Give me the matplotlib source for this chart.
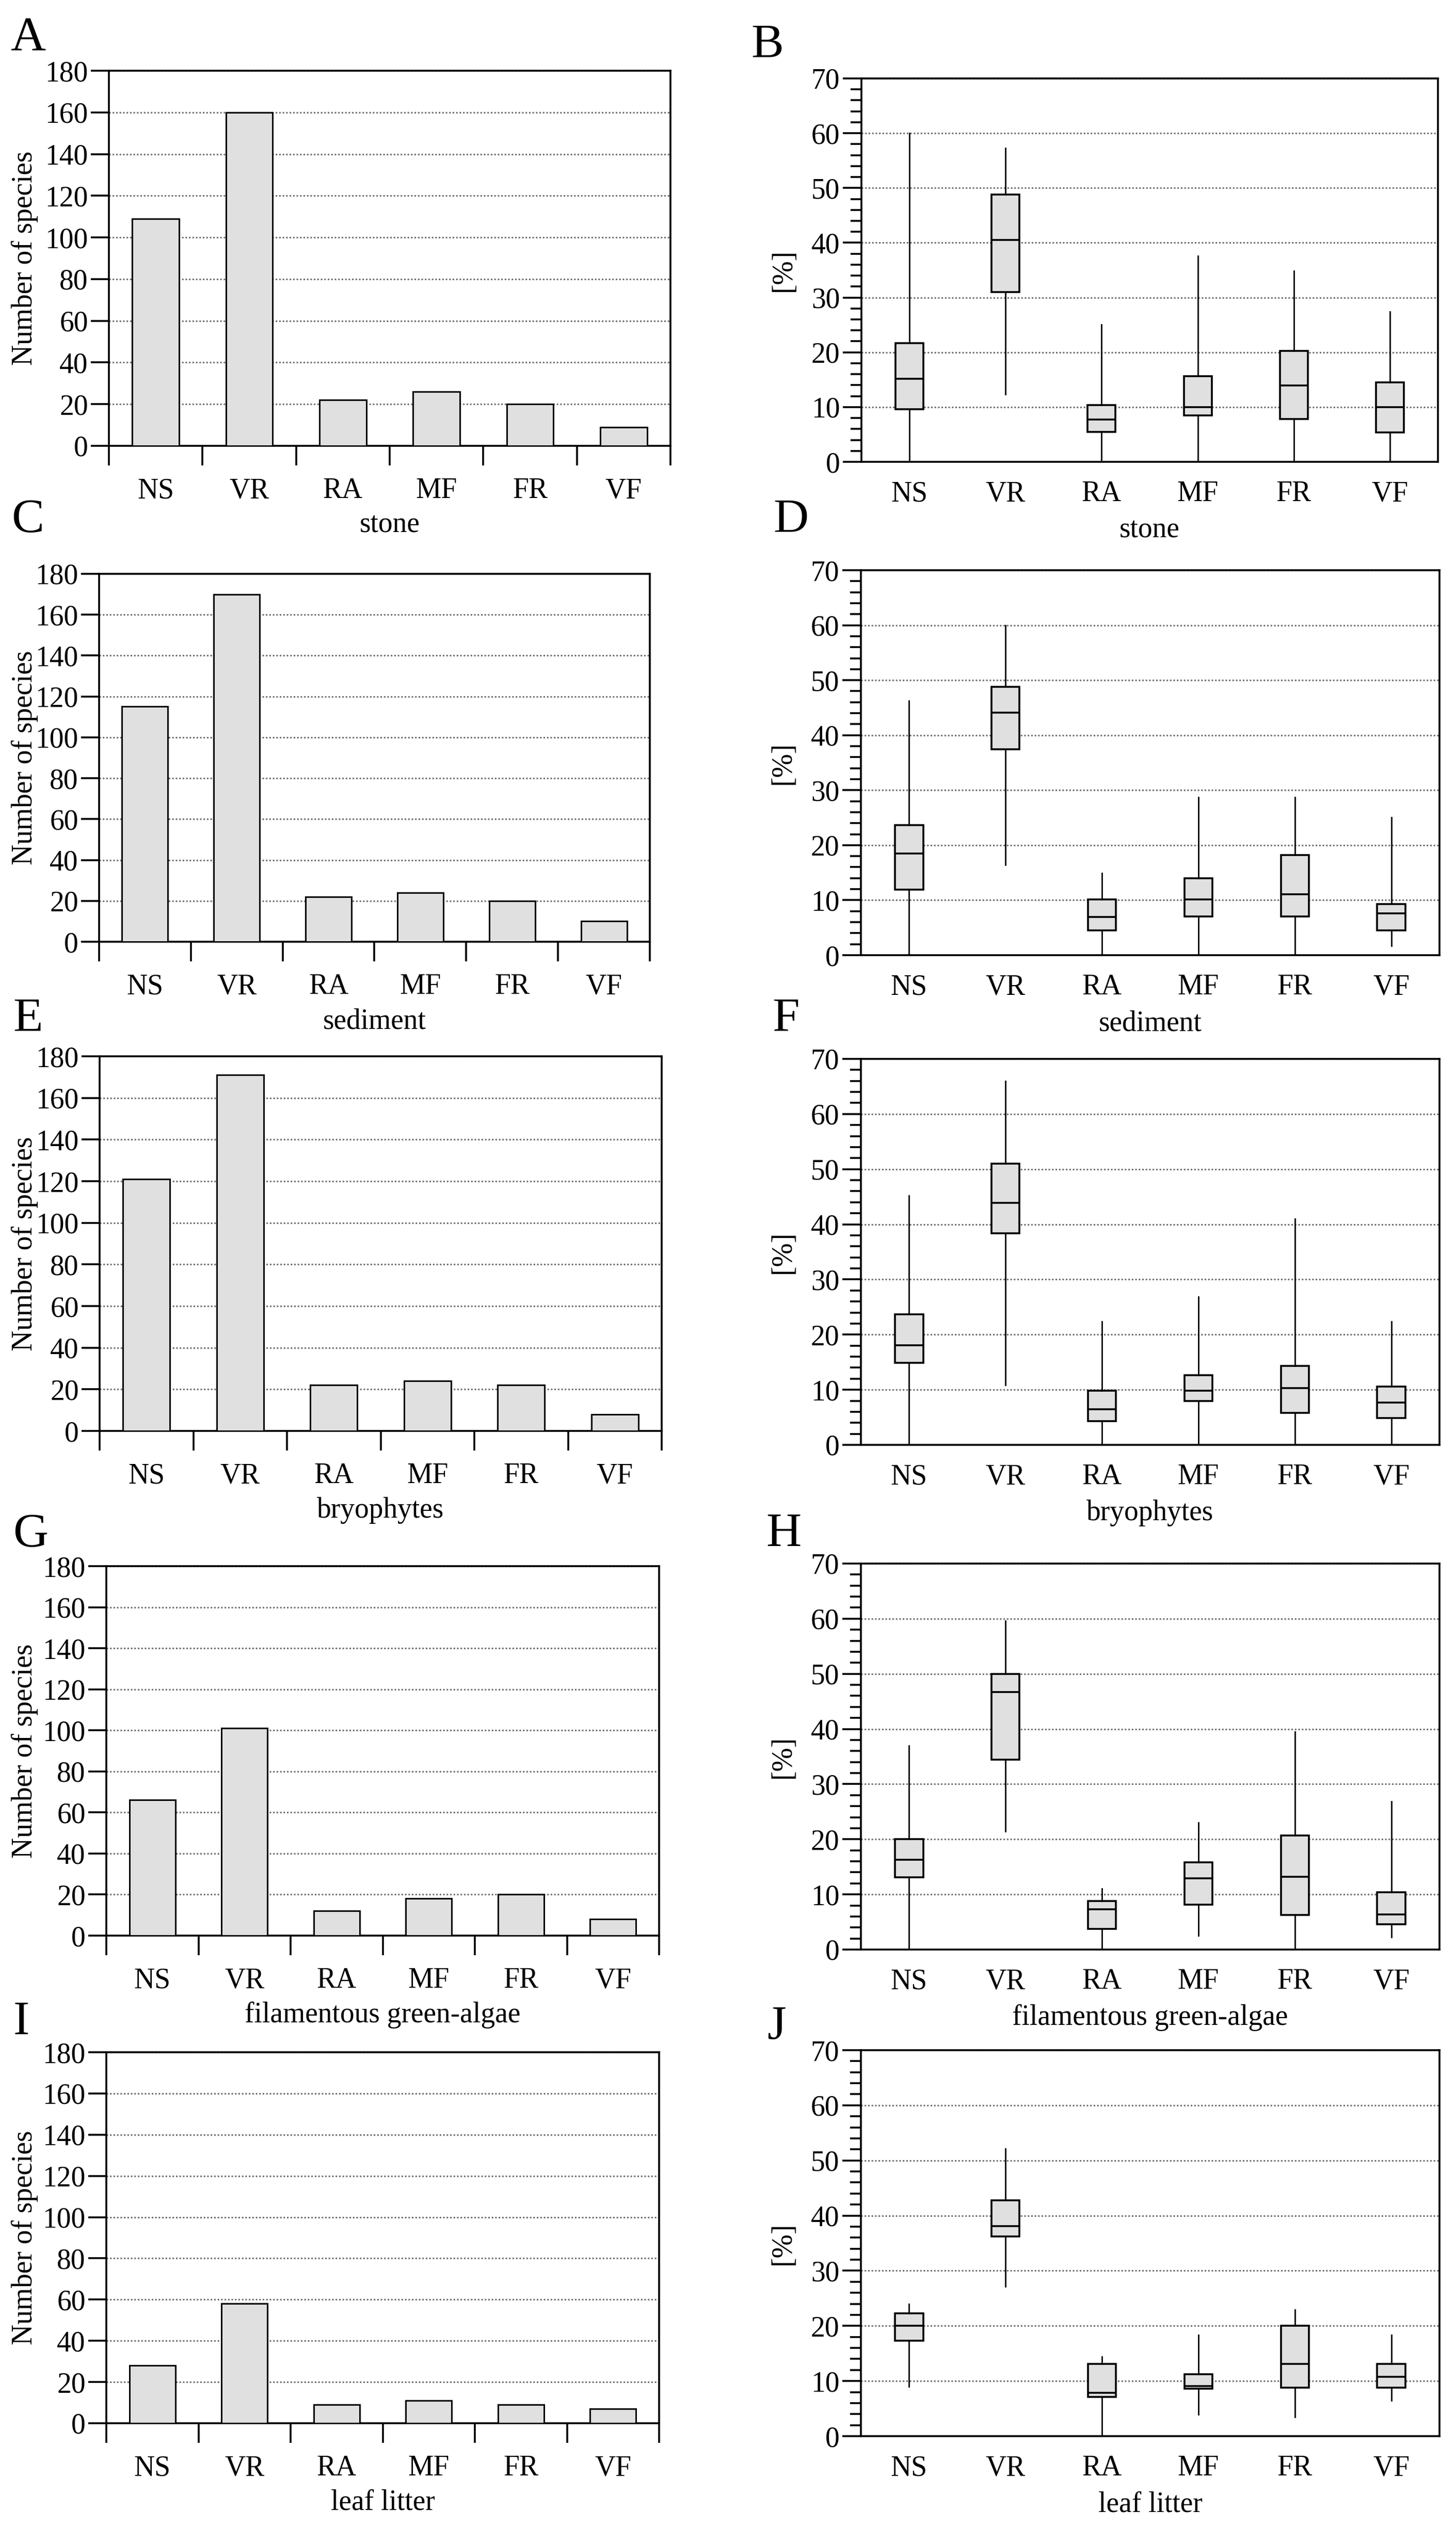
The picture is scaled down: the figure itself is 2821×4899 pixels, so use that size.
import matplotlib
matplotlib.use("Agg")
import matplotlib.pyplot as plt
from matplotlib.ticker import MultipleLocator, FixedLocator, NullFormatter

plt.rcParams['font.family'] = ['Liberation Serif', 'DejaVu Serif']

# ---- data -------------------------------------------------------------
categories = ['NS', 'VR', 'RA', 'MF', 'FR', 'VF']
habitats = ['stone', 'sediment', 'bryophytes', 'filamentous green-algae', 'leaf litter']

# number of species per group (left column)
species_stone = [109, 160, 22, 26, 20, 9]
species_sediment = [115, 170, 22, 24, 20, 10]
species_bryophytes = [121, 171, 22, 24, 22, 8]
species_algae = [66, 101, 12, 18, 20, 8]
species_litter = [28, 58, 9, 11, 9, 7]

# relative share [%] per group (right column): min, q1, median, q3, max
pct_stone = [[0, 9.6, 15.2, 21.7, 60.0], [12.3, 31.0, 40.5, 48.8, 57.3],
             [0, 5.5, 7.7, 10.4, 25.1], [0, 8.5, 10.0, 15.6, 37.6],
             [0, 7.8, 13.9, 20.3, 34.9], [0, 5.4, 10.0, 14.5, 27.4]]
pct_sediment = [[0, 11.9, 18.5, 23.6, 46.3], [16.4, 37.4, 44.1, 48.8, 60.0],
                [0, 4.5, 6.9, 10.1, 14.9], [0, 7.0, 10.1, 14.0, 28.7],
                [0, 7.0, 11.1, 18.2, 28.7], [1.7, 4.5, 7.6, 9.3, 25.1]]
pct_bryophytes = [[0, 14.9, 18.1, 23.7, 45.2], [10.9, 38.4, 43.9, 51.0, 66.0],
                  [0, 4.3, 6.5, 9.8, 22.4], [0, 8.0, 9.8, 12.6, 26.9],
                  [0, 5.8, 10.3, 14.3, 41.0], [0, 4.9, 7.7, 10.6, 22.4]]
pct_algae = [[0, 13.1, 16.3, 20.0, 37.0], [21.4, 34.4, 46.7, 50.0, 59.6],
             [0, 3.7, 7.3, 8.8, 11.0], [2.5, 8.1, 12.9, 15.8, 23.0],
             [0, 6.3, 13.2, 20.7, 39.5], [2.2, 4.6, 6.4, 10.4, 26.9]]
pct_litter = [[9.0, 17.3, 20.0, 22.3, 24.0], [27.1, 36.2, 38.1, 42.8, 52.1],
              [0, 7.1, 7.9, 13.1, 14.4], [3.9, 8.6, 9.1, 11.2, 18.3],
              [3.5, 8.8, 13.1, 20.0, 22.9], [6.5, 8.8, 10.8, 13.1, 18.3]]

species_all = [species_stone, species_sediment, species_bryophytes, species_algae, species_litter]
pct_all = [pct_stone, pct_sediment, pct_bryophytes, pct_algae, pct_litter]

# ---- layout (pixels of the 2821 x 4899 canvas) -------------------------
W, H = 2821, 4899
left_boxes = [(211, 137, 1299, 864), (192, 1112, 1259, 1825), (193, 2047, 1282, 2773),
              (206, 3035, 1277, 3751), (206, 3977, 1277, 4696)]
right_boxes = [(1669, 152, 2786, 895), (1668, 1105, 2789, 1851), (1668, 2052, 2789, 2800),
               (1668, 3030, 2789, 3778), (1668, 3973, 2789, 4721)]
left_letters = [('A', 54, 75), ('C', 54, 1008), ('E', 54, 1975), ('G', 59, 2974), ('I', 41, 3919)]
right_letters = [('B', 1487, 88), ('D', 1532, 1008), ('F', 1523, 1975), ('H', 1518, 2974), ('J', 1505, 3929)]

FS = 40
LW = 2.6
FILL = '#e0e0e0'
GRID = dict(color='#707070', linestyle=(0, (1, 1.2)), linewidth=2.2)

fig = plt.figure(figsize=(W / 100, H / 100), dpi=100)


def add_axes(box):
    x0, y0, x1, y1 = box
    return fig.add_axes([x0 / W, 1 - y1 / H, (x1 - x0) / W, (y1 - y0) / H])


def style_frame(ax):
    for s in ax.spines.values():
        s.set_linewidth(LW)
    ax.set_axisbelow(True)
    ax.yaxis.grid(True, **GRID)


for i in range(5):
    # bar chart: number of species
    ax = add_axes(left_boxes[i])
    style_frame(ax)
    ax.bar(range(6), species_all[i], width=0.5, color=FILL, edgecolor='black',
           linewidth=2.2, zorder=3)
    ax.set_xlim(-0.5, 5.5)
    ax.set_ylim(0, 180)
    ax.yaxis.set_major_locator(MultipleLocator(20))
    ax.set_xticks(range(6))
    ax.set_xticklabels(categories)
    ax.xaxis.set_minor_locator(FixedLocator([k - 0.5 for k in range(7)]))
    ax.xaxis.set_minor_formatter(NullFormatter())
    ax.tick_params(axis='x', which='major', length=0, pad=44, labelsize=FS)
    ax.tick_params(axis='x', which='minor', length=27, width=LW, direction='out')
    ax.tick_params(axis='y', which='major', length=25, width=LW, direction='out',
                   pad=4, labelsize=FS)
    ax.set_ylabel('Number of species', fontsize=FS, va='center')
    hpx = left_boxes[i][3] - left_boxes[i][1]
    wpx = left_boxes[i][2] - left_boxes[i][0]
    ax.yaxis.set_label_coords(-(left_boxes[i][0] - 48) / wpx, 0.5)
    ax.set_xlabel(habitats[i], fontsize=FS, va='center')
    ax.xaxis.set_label_coords(0.5, -154 / hpx)
    lt, lx, ly = left_letters[i]
    fig.text(lx / W, 1 - ly / H, lt, fontsize=68, ha='center', va='center')

    # box plot: share in percent
    ax = add_axes(right_boxes[i])
    style_frame(ax)
    stats = [dict(whislo=p[0], q1=p[1], med=p[2], q3=p[3], whishi=p[4], label=c)
             for p, c in zip(pct_all[i], categories)]
    ax.bxp(stats, positions=range(6), widths=0.29, showfliers=False, showcaps=False,
           patch_artist=True,
           boxprops=dict(facecolor=FILL, edgecolor='black', linewidth=LW),
           medianprops=dict(color='black', linewidth=LW),
           whiskerprops=dict(color='black', linewidth=2.0))
    ax.set_xlim(-0.5, 5.5)
    ax.set_ylim(0, 70)
    ax.yaxis.set_major_locator(MultipleLocator(10))
    ax.yaxis.set_minor_locator(MultipleLocator(2))
    ax.tick_params(axis='x', which='both', length=0, pad=26, labelsize=FS)
    ax.tick_params(axis='y', which='major', length=26, width=LW, direction='out',
                   pad=4, labelsize=FS)
    ax.tick_params(axis='y', which='minor', length=15, width=LW, direction='out')
    ax.set_ylabel('[%]', fontsize=FS, va='center')
    hpx = right_boxes[i][3] - right_boxes[i][1]
    wpx = right_boxes[i][2] - right_boxes[i][0]
    ax.yaxis.set_label_coords(-151 / wpx, 0.5)
    ax.set_xlabel(habitats[i], fontsize=FS, va='center')
    ax.xaxis.set_label_coords(0.5, -132 / hpx)
    rt, rx, ry = right_letters[i]
    fig.text(rx / W, 1 - ry / H, rt, fontsize=68, ha='center', va='center')

fig.savefig('out.png', dpi=100)
